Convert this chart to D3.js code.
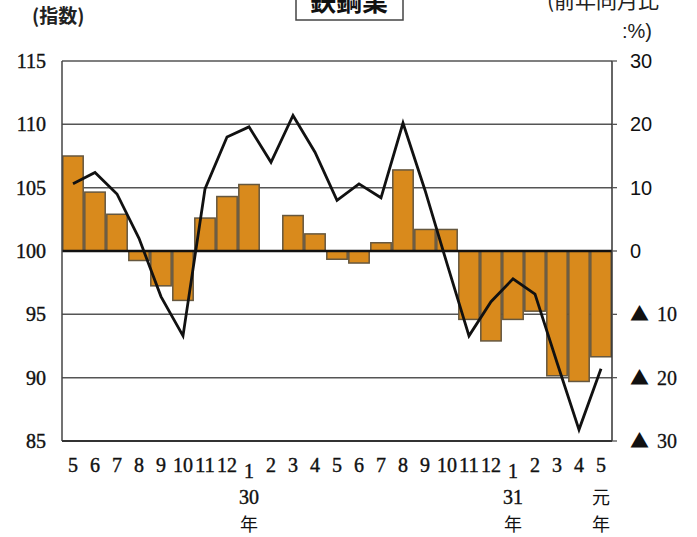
<!DOCTYPE html>
<html>
  <head>
    <meta charset="utf-8">
    <title>鉄鋼業</title>
    <script src="https://d3js.org/d3.v7.min.js" charset="utf-8"></script>
    <style>
      body { margin: 0; background: #fff; }
    </style>
  </head>
  <body>
    <script>
      // data
      var months = ["5","6","7","8","9","10","11","12","1","2","3","4","5","6","7","8","9","10","11","12","1","2","3","4","5"];
      var yoy = [15.0, 9.3, 5.8, -1.5, -5.5, -7.8, 5.2, 8.6, 10.5, 0, 5.6, 2.7, -1.3, -1.9, 1.3, 12.8, 3.4, 3.4, -10.8, -14.2, -10.8, -9.5, -19.7, -20.6, -16.7];
      var indexVals = [105.3, 106.2, 104.5, 101.0, 96.4, 93.3, 104.9, 109.0, 109.8, 107.0, 110.7, 107.8, 104.0, 105.3, 104.2, 110.1, 104.8, 99.0, 93.3, 96.0, 97.8, 96.6, 91.2, 85.9, 90.7];
      var leftTicks = [85, 90, 95, 100, 105, 110, 115];
      var rightTicks = [-30, -20, -10, 0, 10, 20, 30];
      var yearLabels = [{i: 8, top: "30", bottom: "年"}, {i: 20, top: "31", bottom: "年"}, {i: 24, top: "元", bottom: "年"}];

      var width = 697, height = 537;
      var plotL = 62, plotR = 612, plotT = 61, plotB = 441;

      var svg = d3.select("body")
        .append("svg")
        .attr("width", width)
        .attr("height", height);

      var x = d3.scaleBand()
        .domain(d3.range(months.length))
        .range([plotL, plotR])
        .paddingInner(0)
        .paddingOuter(0);

      var yL = d3.scaleLinear().domain([85, 115]).range([plotB, plotT]);
      var yR = d3.scaleLinear().domain([-30, 30]).range([plotB, plotT]);

      // grid lines
      svg.append("g").selectAll("line")
        .data(leftTicks.filter(function(d){ return d != 100; }))
        .enter()
        .append("line")
        .attr("x1", plotL).attr("x2", plotR)
        .attr("y1", function(d){ return yL(d); })
        .attr("y2", function(d){ return yL(d); })
        .attr("stroke", "#555")
        .attr("stroke-width", 1.5);

      // bars (前年同月比)
      svg.append("g").selectAll("rect")
        .data(yoy)
        .enter()
        .append("rect")
        .attr("x", function(d, i){ return x(i) + 0.8; })
        .attr("width", x.bandwidth() - 1.6)
        .attr("y", function(d){ return Math.min(yR(d), yR(0)); })
        .attr("height", function(d){ return Math.abs(yR(d) - yR(0)); })
        .attr("fill", "#d98a1c")
        .attr("stroke", "#65573f")
        .attr("stroke-width", 1.5);

      // baseline
      svg.append("line")
        .attr("x1", plotL).attr("x2", plotR)
        .attr("y1", yL(100)).attr("y2", yL(100))
        .attr("stroke", "#111")
        .attr("stroke-width", 2.4);

      // axes frame
      svg.append("line").attr("x1", plotL).attr("x2", plotL).attr("y1", plotT).attr("y2", plotB)
        .attr("stroke", "#444").attr("stroke-width", 1.5);
      svg.append("line").attr("x1", plotR).attr("x2", plotR).attr("y1", plotT).attr("y2", plotB)
        .attr("stroke", "#333").attr("stroke-width", 1.5);
      svg.append("line").attr("x1", plotL).attr("x2", plotR).attr("y1", plotB).attr("y2", plotB)
        .attr("stroke", "#333").attr("stroke-width", 2);

      // right ticks
      svg.append("g").selectAll("line")
        .data(rightTicks)
        .enter()
        .append("line")
        .attr("x1", plotR).attr("x2", plotR + 5)
        .attr("y1", function(d){ return yR(d); })
        .attr("y2", function(d){ return yR(d); })
        .attr("stroke", "#555")
        .attr("stroke-width", 1.3);

      // index line
      var line = d3.line()
        .x(function(d, i){ return x(i) + x.bandwidth() / 2; })
        .y(function(d){ return yL(d); });

      svg.append("path")
        .datum(indexVals)
        .attr("d", line)
        .attr("fill", "none")
        .attr("stroke", "#111")
        .attr("stroke-width", 2.8)
        .attr("stroke-linejoin", "miter");

      // left axis labels
      svg.append("g").selectAll("text")
        .data(leftTicks)
        .enter()
        .append("text")
        .attr("x", 46)
        .attr("y", function(d){ return yL(d) + 7; })
        .attr("text-anchor", "end")
        .attr("font-family", "Liberation Serif")
        .attr("font-size", 20)
        .attr("fill", "#111")
        .attr("stroke", "#111")
        .attr("stroke-width", 0.4)
        .text(function(d){ return d; });

      // right axis labels
      var rl = svg.append("g").selectAll("text")
        .data(rightTicks)
        .enter()
        .append("text")
        .attr("x", 630)
        .attr("y", function(d){ return yR(d) + 7; })
        .attr("fill", "#111");
      rl.filter(function(d){ return d >= 0; })
        .attr("font-family", "Liberation Sans")
        .attr("font-size", 20)
        .text(function(d){ return d; });
      var neg = rl.filter(function(d){ return d < 0; });
      neg.append("tspan")
        .attr("font-family", "Noto Sans CJK JP")
        .attr("font-size", 19)
        .text("\u25B2");
      neg.append("tspan")
        .attr("x", 657)
        .attr("font-family", "Liberation Serif")
        .attr("font-size", 20)
        .attr("stroke", "#111")
        .attr("stroke-width", 0.3)
        .text(function(d){ return -d; });

      // month labels
      svg.append("g").selectAll("text")
        .data(months)
        .enter()
        .append("text")
        .attr("x", function(d, i){ return x(i) + x.bandwidth() / 2; })
        .attr("y", function(d){ return d == "1" ? 478 : 472; })
        .attr("text-anchor", "middle")
        .attr("font-family", "Liberation Serif")
        .attr("font-size", 20)
        .attr("textLength", function(d){ return d.length > 1 ? 20 : null; })
        .attr("lengthAdjust", "spacingAndGlyphs")
        .attr("fill", "#111")
        .attr("stroke", "#111")
        .attr("stroke-width", 0.4)
        .text(function(d){ return d; });

      var yl = svg.append("g").selectAll("g")
        .data(yearLabels)
        .enter()
        .append("g");
      yl.append("text")
        .attr("x", function(d){ return x(d.i) + x.bandwidth() / 2; })
        .attr("y", 504)
        .attr("text-anchor", "middle")
        .attr("font-family", function(d){ return d.top == "元" ? "Noto Sans CJK JP" : "Liberation Serif"; })
        .attr("font-size", function(d){ return d.top == "元" ? 18 : 20; })
        .attr("fill", "#111")
        .attr("stroke", "#111")
        .attr("stroke-width", function(d){ return d.top == "元" ? 0 : 0.4; })
        .text(function(d){ return d.top; });
      yl.append("text")
        .attr("x", function(d){ return x(d.i) + x.bandwidth() / 2; })
        .attr("y", 531)
        .attr("text-anchor", "middle")
        .attr("font-family", "Noto Sans CJK JP")
        .attr("font-size", 18)
        .attr("fill", "#111")
        .text(function(d){ return d.bottom; });

      // title box
      svg.append("rect")
        .attr("x", 296).attr("y", -10)
        .attr("width", 107).attr("height", 30)
        .attr("fill", "#fff")
        .attr("stroke", "#444")
        .attr("stroke-width", 1.5);
      svg.append("text")
        .attr("x", 349).attr("y", 11)
        .attr("text-anchor", "middle")
        .attr("font-family", "Noto Sans CJK JP")
        .attr("font-weight", "bold")
        .attr("font-size", 26)
        .attr("fill", "#111")
        .text("鉄鋼業");

      // axis titles
      svg.append("text")
        .attr("x", 32).attr("y", 23)
        .attr("font-family", "Noto Sans CJK JP")
        .attr("font-weight", "bold")
        .attr("font-size", 19)
        .attr("fill", "#222")
        .text("(指数)");
      svg.append("text")
        .attr("x", 547).attr("y", 8)
        .attr("font-family", "Noto Sans CJK JP")
        .attr("font-size", 21)
        .attr("fill", "#222")
        .text("(前年同月比");
      svg.append("text")
        .attr("x", 622).attr("y", 38)
        .attr("font-family", "Liberation Sans")
        .attr("font-size", 20)
        .attr("fill", "#222")
        .text(":%)");
    </script>
  </body>
</html>
